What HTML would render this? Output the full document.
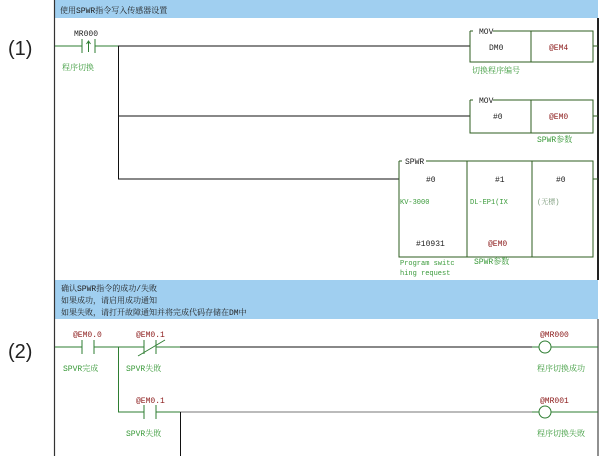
<!DOCTYPE html>
<html><head><meta charset="utf-8"><style>
body{margin:0;background:#fff;}
svg{display:block;}
text{font-family:"Liberation Mono","Noto Serif CJK SC","Noto Sans CJK SC",monospace;font-size:8px;}
.g{fill:#3a9a3a;}
.r{fill:#8b1a1a;}
.k{fill:#222;}
</style></head><body>
<svg width="600" height="456" viewBox="0 0 600 456" xmlns="http://www.w3.org/2000/svg">
<!-- header bands -->
<rect x="55" y="0" width="543" height="18" fill="#a0cff0"/>
<line x1="55" y1="18.5" x2="598" y2="18.5" stroke="#fff" stroke-dasharray="2,2"/>
<text x="60" y="13" class="k">使用SPWR指令写入传感器设置</text>
<rect x="55" y="280" width="543" height="39" fill="#a0cff0"/>
<line x1="55" y1="319.5" x2="598" y2="319.5" stroke="#fff" stroke-dasharray="2,2"/>
<text x="61" y="291" class="k">确认SPWR指令的成功/失败</text>
<text x="61" y="303" class="k">如果成功，请启用成功通知</text>
<text x="61" y="315" class="k">如果失败，请打开故障通知并将完成代码存储在DM中</text>
<!-- left rail -->
<line x1="54.5" y1="0" x2="54.5" y2="456" stroke="#333" stroke-width="1.2"/>
<line x1="598" y1="18" x2="598" y2="280" stroke="#222" stroke-width="2"/>
<line x1="598" y1="319" x2="598" y2="456" stroke="#222" stroke-width="1"/>
<text x="8" y="55" style="font-family:'Liberation Sans',sans-serif;font-size:20px" fill="#222">(1)</text>
<text x="8" y="358" style="font-family:'Liberation Sans',sans-serif;font-size:20px" fill="#222">(2)</text>

<!-- Rung 1 -->
<g stroke="#2e7d32" stroke-width="1" fill="none">
<line x1="55" y1="46" x2="82" y2="46"/>
<line x1="82" y1="39" x2="82" y2="53"/>
<line x1="95" y1="39" x2="95" y2="53"/>
<line x1="95" y1="46" x2="118" y2="46"/>
<line x1="88.5" y1="42" x2="88.5" y2="52"/>
<path d="M86.5 44 L88.5 41 L90.5 44"/>
</g>
<text x="74" y="36" class="k">MR000</text>
<text x="62" y="70" class="g">程序切换</text>
<g stroke="#111" stroke-width="1">
<line x1="118" y1="46" x2="470" y2="46"/>
<line x1="118.5" y1="46" x2="118.5" y2="179"/>
<line x1="118" y1="116" x2="470" y2="116"/>
<line x1="118" y1="179" x2="399" y2="179"/>
</g>
<!-- MOV 1 -->
<g stroke="#2e5d1f" stroke-width="1" fill="none">
<path d="M470 31 V62 H593 V31 H531 V62 M531 31 H493 M470 31 H473"/>
<line x1="593" y1="46" x2="598" y2="46"/>
<path d="M470 100 V133 H593 V100 H531 V133 M531 100 H493 M470 100 H473"/>
<line x1="593" y1="116" x2="598" y2="116"/>
<path d="M399 161 V257 H593 V161 H467 V257 M532 161 V257 M399 161 H402 M426 161 H593"/>
<line x1="593" y1="179" x2="598" y2="179"/>
</g>
<text x="479" y="34" class="k">MOV</text>
<text x="489" y="50" class="k">DM0</text>
<text x="549" y="50" class="r">@EM4</text>
<text x="472" y="73" class="g">切换程序编号</text>
<text x="479" y="103" class="k">MOV</text>
<text x="493" y="119" class="k">#0</text>
<text x="549" y="119" class="r">@EM0</text>
<text x="537" y="142" class="g">SPWR参数</text>
<text x="405" y="164" class="k">SPWR</text>
<text x="426" y="182" class="k">#0</text>
<text x="495" y="182" class="k">#1</text>
<text x="556" y="182" class="k">#0</text>
<text x="400" y="204" class="g" style="font-size:7px">KV-3000</text>
<text x="470" y="204" class="g" style="font-size:7px">DL-EP1(IX</text>
<text x="537" y="204" fill="#7a9a7a" style="font-size:7px">(无標)</text>
<text x="416" y="246" class="k">#10931</text>
<text x="488" y="246" class="r">@EM0</text>
<text x="400" y="265" class="g" style="font-size:7px">Program switc</text>
<text x="400" y="275" class="g" style="font-size:7px">hing request</text>
<text x="474" y="264" class="g">SPWR参数</text>

<!-- Rung 2 -->
<g stroke="#2e7d32" stroke-width="1" fill="none">
<line x1="55" y1="347" x2="82" y2="347"/>
<line x1="82" y1="340" x2="82" y2="354"/>
<line x1="94" y1="340" x2="94" y2="354"/>
<line x1="94" y1="347" x2="144" y2="347"/>
<line x1="118.5" y1="347" x2="118.5" y2="412"/>
<line x1="144" y1="340" x2="144" y2="354"/>
<line x1="156" y1="340" x2="156" y2="354"/>
<line x1="138" y1="356" x2="165" y2="340"/>
<line x1="156" y1="347" x2="180" y2="347"/>
<line x1="118" y1="412" x2="144" y2="412"/>
<line x1="144" y1="405" x2="144" y2="419"/>
<line x1="156" y1="405" x2="156" y2="419"/>
<line x1="156" y1="412" x2="180" y2="412"/>
<line x1="532" y1="347" x2="539" y2="347"/>
<circle cx="545" cy="347" r="6"/>
<line x1="551" y1="347" x2="598" y2="347"/>
<line x1="532" y1="412" x2="539" y2="412"/>
<circle cx="545" cy="412" r="6"/>
<line x1="551" y1="412" x2="598" y2="412"/>
</g>
<line x1="180" y1="347" x2="532" y2="347" stroke="#111"/>
<line x1="180" y1="412" x2="532" y2="412" stroke="#777"/>
<line x1="180.5" y1="412" x2="180.5" y2="456" stroke="#111"/>
<text x="73" y="337" class="r">@EM0.0</text>
<text x="63" y="371" class="g">SPVR完成</text>
<text x="136" y="337" class="r">@EM0.1</text>
<text x="126" y="371" class="g">SPVR失敗</text>
<text x="136" y="403" class="r">@EM0.1</text>
<text x="126" y="436" class="g">SPVR失敗</text>
<text x="540" y="337" class="r">@MR000</text>
<text x="537" y="371" class="g">程序切换成功</text>
<text x="540" y="403" class="r">@MR001</text>
<text x="537" y="436" class="g">程序切换失敗</text>
</svg>
</body></html>
